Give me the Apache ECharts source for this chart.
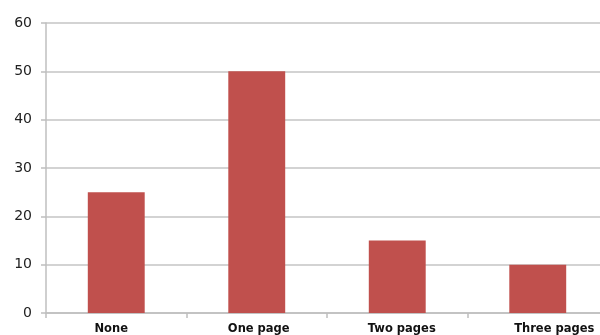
<!DOCTYPE html>
<html>
<head>
<meta charset="utf-8">
<script src="https://cdn.jsdelivr.net/npm/echarts@6/dist/echarts.min.js"></script>
<style>
  html, body { margin: 0; padding: 0; background: #fff; overflow: hidden; width: 600px; height: 335px; }
  #chart { width: 610px; height: 335px; }
</style>
</head>
<body>
<div id="chart"></div>
<script>
const categories = ['None', 'One page', 'Two pages', 'Three pages']
const values = [25, 50, 15, 10]

// label nudges (px) so the category names sit where the original's do
const labelShift = [-5, 2, 4.5, 16.5]

const labelFont = { color: '#111', fontFamily: 'DejaVu Sans', fontWeight: 'bold', fontSize: 11.5 }
const rich = {}
labelShift.forEach((s, i) => {
  rich['c' + i] = Object.assign({}, labelFont, {
    padding: s >= 0 ? [0, 0, 0, s * 2] : [0, -s * 2, 0, 0]
  })
})

const chart = echarts.init(document.getElementById('chart'))
chart.setOption({
  animation: false,
  backgroundColor: '#fff',
  grid: { left: 46, top: 23, width: 562, bottom: 22 },
  xAxis: {
    type: 'category',
    data: categories,
    axisLine: { lineStyle: { color: '#bfbfbf', width: 1.5 } },
    axisTick: { show: true, interval: 0, length: 5, lineStyle: { color: '#bfbfbf', width: 1.5 } },
    axisLabel: Object.assign({}, labelFont, {
      interval: 0,
      hideOverlap: false,
      margin: 10,
      formatter: (v, i) => '{c' + i + '|' + v + '}',
      rich
    })
  },
  yAxis: {
    type: 'value',
    min: 0,
    max: 60,
    interval: 10,
    axisLine: { show: true, lineStyle: { color: '#bfbfbf', width: 1.5 } },
    axisTick: { show: true, length: 5, lineStyle: { color: '#bfbfbf', width: 1.5 } },
    axisLabel: { color: '#222', fontFamily: 'DejaVu Sans', fontSize: 14, margin: 14 },
    splitLine: { lineStyle: { color: '#c4c4c4', width: 1.5 } }
  },
  series: [{
    type: 'bar',
    data: values,
    barWidth: '40.5%',
    itemStyle: { color: '#c0504d' }
  }]
})
</script>
</body>
</html>
